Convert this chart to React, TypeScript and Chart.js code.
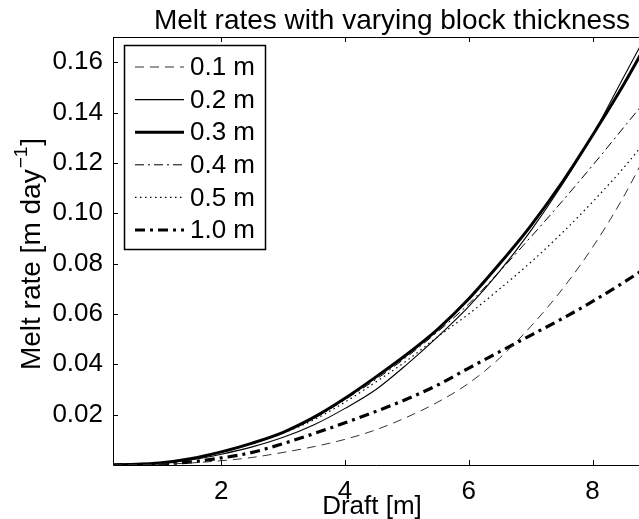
import React, { useEffect, useRef } from "react";
import { Chart, registerables } from "chart.js";

Chart.register(...registerables);

// ---- data ----
const DRAFT = [0.25, 0.5, 1.0, 1.5, 2.0, 2.5, 3.0, 3.5, 4.0, 4.5, 5.0, 5.5, 6.0, 6.5, 7.0, 7.5, 8.0, 8.5, 9.0];
const MELT_01 = [0, 0.0001, 0.0003, 0.0008, 0.0017, 0.003, 0.005, 0.0073, 0.0102, 0.014, 0.019, 0.025, 0.0325, 0.0425, 0.055, 0.0695, 0.0865, 0.1065, 0.13];
const MELT_02 = [0, 0.0002, 0.0007, 0.002, 0.0043, 0.0072, 0.011, 0.016, 0.0225, 0.03, 0.04, 0.051, 0.063, 0.077, 0.093, 0.111, 0.131, 0.154, 0.177];
const MELT_03 = [0, 0.0002, 0.0008, 0.0025, 0.0052, 0.0087, 0.013, 0.019, 0.0265, 0.035, 0.044, 0.054, 0.066, 0.08, 0.095, 0.112, 0.131, 0.151, 0.173];
const MELT_04 = [0, 0.0002, 0.0008, 0.0024, 0.005, 0.0085, 0.0128, 0.0185, 0.026, 0.034, 0.043, 0.053, 0.064, 0.077, 0.0905, 0.1045, 0.119, 0.134, 0.149];
const MELT_05 = [0, 0.0002, 0.0008, 0.0024, 0.005, 0.0085, 0.0127, 0.018, 0.025, 0.033, 0.0415, 0.051, 0.06, 0.07, 0.0805, 0.092, 0.1045, 0.118, 0.133];
const MELT_10 = [0, 0.0001, 0.0004, 0.0012, 0.0028, 0.005, 0.0085, 0.0125, 0.0168, 0.0213, 0.0262, 0.0318, 0.0385, 0.045, 0.0515, 0.058, 0.065, 0.0725, 0.0805];

const SERIES_LABELS = ["0.1 m", "0.2 m", "0.3 m", "0.4 m", "0.5 m", "1.0 m"];
const X_TICKS = [2, 4, 6, 8];
const Y_TICKS = [0.02, 0.04, 0.06, 0.08, 0.1, 0.12, 0.14, 0.16];
const TITLE = "Melt rates with varying block thickness";
const X_LABEL = "Draft [m]";
const Y_LABEL_MAIN = "Melt rate [m day";
const Y_LABEL_SUP = "\u22121";
const Y_LABEL_END = "]";

const FONT = "Liberation Sans, Arial, Helvetica, sans-serif";

const STYLES = [
  { width: 1, dash: [9, 6], color: "#333" },
  { width: 1.1, dash: [], color: "#000" },
  { width: 3, dash: [], color: "#000" },
  { width: 1, dash: [9, 4, 2, 4], color: "#000" },
  { width: 1.2, dash: [1.5, 3.5], color: "#000" },
  { width: 3.2, dash: [10, 5, 3, 5], color: "#000" },
];

const SERIES = [MELT_01, MELT_02, MELT_03, MELT_04, MELT_05, MELT_10];

const framePlugin = {
  id: "frame",
  afterDatasetsDraw(chart: any) {
    const { ctx, chartArea: a, scales } = chart;
    const xs = scales.x;
    const ys = scales.y;
    ctx.save();
    ctx.strokeStyle = "#000";
    ctx.lineWidth = 1;
    ctx.setLineDash([]);
    ctx.beginPath();
    ctx.moveTo(a.left + 0.5, a.top + 0.5);
    ctx.lineTo(a.right, a.top + 0.5);
    ctx.moveTo(a.left + 0.5, a.top);
    ctx.lineTo(a.left + 0.5, a.bottom + 0.5);
    ctx.lineTo(a.right, a.bottom + 0.5);
    const tl = 5;
    X_TICKS.forEach((v) => {
      const px = Math.round(xs.getPixelForValue(v)) + 0.5;
      ctx.moveTo(px, a.bottom);
      ctx.lineTo(px, a.bottom - tl);
      ctx.moveTo(px, a.top);
      ctx.lineTo(px, a.top + tl);
    });
    Y_TICKS.forEach((v) => {
      const py = Math.round(ys.getPixelForValue(v)) + 0.5;
      ctx.moveTo(a.left, py);
      ctx.lineTo(a.left + tl, py);
    });
    ctx.stroke();

    // legend
    const lx = 124.5, ly = 45.5, lw = 141, lh = 204;
    ctx.fillStyle = "#fff";
    ctx.fillRect(lx, ly, lw, lh);
    ctx.lineWidth = 1.5;
    ctx.strokeRect(lx, ly, lw, lh);
    ctx.font = `26px ${FONT}`;
    ctx.textBaseline = "middle";
    ctx.textAlign = "left";
    chart.data.datasets.forEach((ds: any, i: number) => {
      const y = 67 + i * 32.6;
      ctx.save();
      ctx.strokeStyle = ds.borderColor;
      ctx.lineWidth = ds.borderWidth;
      ctx.setLineDash(ds.borderDash || []);
      ctx.beginPath();
      ctx.moveTo(135, y);
      ctx.lineTo(184, y);
      ctx.stroke();
      ctx.restore();
      ctx.fillStyle = "#000";
      ctx.fillText(ds.label, 190, y + 1);
    });

    // title
    ctx.fillStyle = "#000";
    ctx.textAlign = "center";
    ctx.textBaseline = "alphabetic";
    ctx.font = `28px ${FONT}`;
    ctx.fillText(TITLE, 392, 29);

    // x label
    ctx.font = `26px ${FONT}`;
    ctx.fillText(X_LABEL, 372, 514);

    // y label (rotated, with superscript)
    ctx.save();
    ctx.translate(40, 254);
    ctx.rotate(-Math.PI / 2);
    ctx.textAlign = "left";
    ctx.textBaseline = "alphabetic";
    ctx.font = `28px ${FONT}`;
    const w1 = ctx.measureText(Y_LABEL_MAIN).width;
    ctx.font = `19px ${FONT}`;
    const w2 = ctx.measureText(Y_LABEL_SUP).width;
    ctx.font = `28px ${FONT}`;
    const w3 = ctx.measureText(Y_LABEL_END).width;
    const total = w1 + w2 + w3 + 2;
    let cx = -total / 2;
    ctx.fillText(Y_LABEL_MAIN, cx, 0);
    cx += w1 + 1;
    ctx.font = `19px ${FONT}`;
    ctx.fillText(Y_LABEL_SUP, cx, -13);
    cx += w2 + 1;
    ctx.font = `28px ${FONT}`;
    ctx.fillText(Y_LABEL_END, cx, 0);
    ctx.restore();
    ctx.restore();
  },
};

export default function App() {
  const ref = useRef<HTMLCanvasElement | null>(null);
  useEffect(() => {
    if (!ref.current) return;
    const datasets = SERIES.map((vals, i) => ({
      label: SERIES_LABELS[i],
      data: DRAFT.map((x, j) => ({ x, y: vals[j] })),
      borderColor: STYLES[i].color,
      borderWidth: STYLES[i].width,
      borderDash: STYLES[i].dash,
      pointRadius: 0,
      fill: false,
      cubicInterpolationMode: "monotone" as const,
    }));
    const chart = new Chart(ref.current, {
      type: "line",
      data: { datasets },
      plugins: [framePlugin],
      options: {
        animation: false,
        responsive: false,
        devicePixelRatio: 1,
        layout: { padding: { left: 0, top: 37, right: 0, bottom: 0 } },
        plugins: { legend: { display: false }, title: { display: false }, tooltip: { enabled: false } },
        scales: {
          x: {
            type: "linear",
            min: 0.25,
            max: 8.75,
            grid: { display: false, drawTicks: false },
            border: { display: false },
            afterBuildTicks: (s: any) => {
              s.ticks = X_TICKS.map((v) => ({ value: v }));
            },
            afterFit: (s: any) => {
              s.height = 54;
            },
            ticks: {
              padding: 11,
              color: "#000",
              font: { family: FONT, size: 26 },
              maxRotation: 0,
              autoSkip: false,
              callback: (v: any) => String(v),
            },
          },
          y: {
            type: "linear",
            min: 0,
            max: 0.17,
            grid: { display: false, drawTicks: false },
            border: { display: false },
            afterBuildTicks: (s: any) => {
              s.ticks = Y_TICKS.map((v) => ({ value: v }));
            },
            afterFit: (s: any) => {
              s.width = 113;
            },
            ticks: {
              padding: 10,
              color: "#000",
              font: { family: FONT, size: 26 },
              autoSkip: false,
              callback: (v: any) => Number(v).toFixed(2),
            },
          },
        },
      },
    });
    return () => chart.destroy();
  }, []);
  return (
    <div style={{ position: "fixed", left: 0, top: 0, width: 639, height: 519, background: "#fff", overflow: "hidden" }}>
      <canvas ref={ref} width={639} height={519} style={{ display: "block" }} />
    </div>
  );
}
